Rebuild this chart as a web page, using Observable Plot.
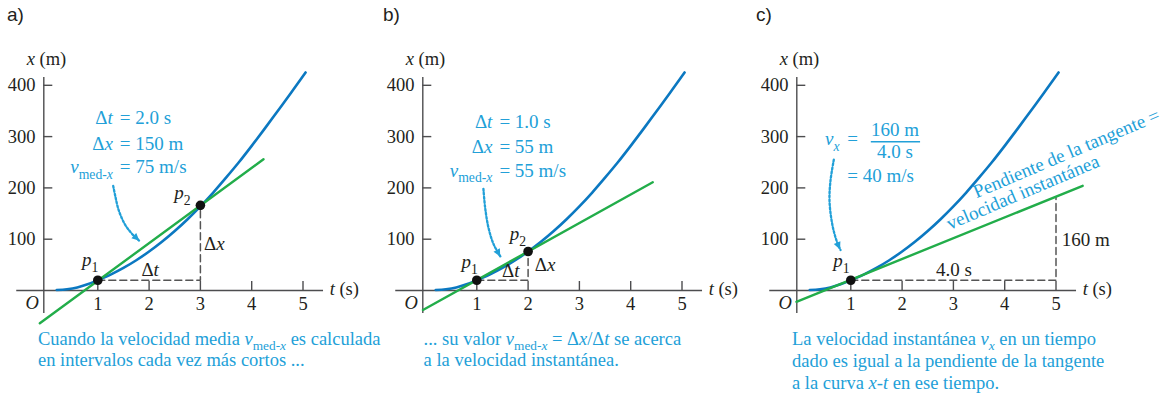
<!DOCTYPE html>
<html><head><meta charset="utf-8">
<script src="https://cdn.jsdelivr.net/npm/d3@7"></script>
<script src="https://cdn.jsdelivr.net/npm/@observablehq/plot@0.6"></script>
<style>
body{margin:0;background:#fff;}
#wrap{position:relative;width:1160px;height:393px;overflow:hidden;background:#fff;}
.panel{position:absolute;top:0;}
.plabel{position:absolute;top:4px;font-family:'Liberation Sans';font-size:19px;color:#231f20;}
</style></head><body><div id="wrap"></div>
<script>
// ---- data ----
const panelLabels = ["a)", "b)", "c)"];
const ticksT = [1, 2, 3, 4, 5];
const ticksX = [100, 200, 300, 400];
const tickLabelsT = ["1", "2", "3", "4", "5"];
const tickLabelsX = ["100", "200", "300", "400"];

// x-t curve (same in the three panels)
const curveT = [0.2, 0.4, 0.6, 0.8, 1.0, 1.25, 1.5, 1.75, 2.0, 2.25, 2.5, 2.75, 3.0, 3.25, 3.5, 3.75, 4.0, 4.25, 4.5, 4.75, 5.05];
const curveX = [1, 2.5, 6, 12, 20, 31, 44, 59, 76, 95, 116, 139, 164, 191, 220, 250, 282, 315, 349, 383, 425];

// panel a
const secantAT = [-0.13, 4.23];
const secantAX = [-64, 256];
const pointsAT = [1, 3];
const pointsAX = [20, 166];
const dashAT = [1, 3, 3];
const dashAX = [20, 20, 166];
const arrowAT = [1.30, 1.345, 1.409, 1.54, 1.70, 1.82];
const arrowAX = [204, 182, 156, 127, 107, 96];

// panel b
const secantBT = [-0.05, 4.43];
const secantBX = [-38, 211];
const pointsBT = [1, 2];
const pointsBX = [20, 76];
const dashBT = [1, 2, 2];
const dashBX = [20, 20, 76];
const arrowBT = [1.129, 1.162, 1.226, 1.324, 1.468];
const arrowBX = [198, 162, 123, 91, 65];

// panel c
const tangentCT = [-0.06, 5.52];
const tangentCX = [-22, 204];
const pointsCT = [1];
const pointsCX = [20];
const dashCT = [1, 5, 5];
const dashCX = [20, 20, 182];
const arrowCT = [0.669, 0.604, 0.585, 0.637, 0.721, 0.80];
const arrowCX = [255, 214, 175, 130, 97.5, 79];

// ---- styling ----
const SERIF = "'Liberation Serif', serif";
const INK = "#231f20";
const AXIS = "#4d4d4f";
const BLUE = "#0b78c1";
const GREEN = "#22ad4a";
const ANN = "#22a0d8";
const DASH = "#555";
const PX_T = 51.3, PX_X = 0.513, T0 = 46, Y0 = 290, H = 393, TICK = 9;

const zip = (a, b) => a.map((v, i) => ({t: v, x: b[i]}));

function richText(x, y, parts, o = {}) {
  const size = o.size || 19;
  const t = d3.create("svg:text")
    .attr("x", x).attr("y", y)
    .attr("text-anchor", o.anchor || "start")
    .attr("fill", o.fill || ANN)
    .attr("font-family", "Liberation Serif")
    .attr("font-size", size);
  if (o.rotate) t.attr("transform", `rotate(${o.rotate} ${x} ${y})`);
  let shift = 0;
  for (const [s, f = ""] of parts) {
    const sub = f.includes("s");
    const target = sub ? size * 0.3 : 0;
    const ts = t.append("tspan").text(s);
    if (target !== shift) { ts.attr("dy", target - shift); shift = target; }
    if (f.includes("i")) ts.attr("font-style", "italic");
    if (sub) ts.attr("font-size", size * 0.72);
  }
  return t.node();
}

function annotations(items, arrowPts) {
  return (index, scales) => {
    const g = d3.create("svg:g");
    for (const it of items) {
      g.append(() => richText(scales.x(it.t) + (it.dx || 0), scales.y(it.x) + (it.dy || 0), it.parts, it));
    }
    if (arrowPts) {
      const n = arrowPts.length;
      const X1 = scales.x(arrowPts[n - 2].t), Y1 = scales.y(arrowPts[n - 2].x);
      const X2 = scales.x(arrowPts[n - 1].t), Y2 = scales.y(arrowPts[n - 1].x);
      const a = Math.atan2(Y2 - Y1, X2 - X1);
      const L = 7.5, W = 3.6;
      const bx = X2 - Math.cos(a) * L, by = Y2 - Math.sin(a) * L;
      const px = -Math.sin(a) * W, py = Math.cos(a) * W;
      g.append("path")
        .attr("d", `M${X2},${Y2}L${bx + px},${by + py}L${bx - px},${by - py}Z`)
        .attr("fill", ANN);
    }
    return g.node();
  };
}

function commonItems() {
  return [
    {t: -0.376, x: 438.6, size: 18.5, parts: [["x", "i"], [" (m)"]], fill: INK},
    {t: 5.53, x: -9.7, size: 18.5, parts: [["t", "i"], [" (s)"]], fill: INK},
    {t: -0.27, x: -37, size: 18.5, parts: [["O", "i"]], fill: INK, anchor: "middle"}
  ];
}
const pLabel = (n) => [["p", "i"], [String(n), "s"]];
const vmed = [["v", "i"], ["med-", "s"], ["x", "si"]];

function panel(cfg) {
  const width = cfg.width;
  const curve = zip(curveT, curveX);
  const arrow = zip(cfg.arrowT, cfg.arrowX);
  const marks = [
    Plot.ruleY([0], {x1: -0.58, x2: 5.4, stroke: AXIS, strokeWidth: 1.4}),
    Plot.ruleX([0], {y1: -45, y2: 415, dx: -2.7, stroke: AXIS, strokeWidth: 1.4}),
    Plot.ruleX(ticksT, {x: d => d, y1: 0, y2: TICK / PX_X, stroke: AXIS, strokeWidth: 1.4}),
    Plot.ruleY(ticksX, {y: d => d, x1: 0, x2: TICK / PX_T, dx: -2.7, stroke: AXIS, strokeWidth: 1.4}),
    Plot.text(ticksT, {x: d => d, y: 0, text: (d, i) => tickLabelsT[i], dy: 14, fill: INK, fontSize: 18.5}),
    Plot.text(ticksX, {x: 0, y: d => d, text: (d, i) => tickLabelsX[i], dx: -11, textAnchor: "end", fill: INK, fontSize: 18.5}),
    Plot.line(zip(cfg.dashT, cfg.dashX), {x: "t", y: "x", stroke: DASH, strokeWidth: 1.5, strokeDasharray: "7,4"}),
    Plot.line(curve, {x: "t", y: "x", stroke: BLUE, strokeWidth: 2.6, curve: "monotone-x"}),
    Plot.line(zip(cfg.secT, cfg.secX), {x: "t", y: "x", stroke: GREEN, strokeWidth: 2.4}),
    Plot.dot(zip(cfg.ptT, cfg.ptX), {x: "t", y: "x", r: 4.8, fill: "#111", stroke: "none"}),
    Plot.line(arrow, {x: "t", y: "x", stroke: ANN, strokeWidth: 2.3, strokeDasharray: "2,2", curve: "catmull-rom"}),
    ...(cfg.extra || []),
    annotations([...commonItems(), ...cfg.items], arrow)
  ];
  const svg = Plot.plot({
    width, height: H,
    marginLeft: T0, marginRight: width - T0 - 5 * PX_T,
    marginTop: Y0 - 400 * PX_X, marginBottom: H - Y0,
    x: {domain: [0, 5], axis: null},
    y: {domain: [0, 400], axis: null},
    style: {fontFamily: SERIF, fontSize: "18px", overflow: "visible"},
    marks
  });
  const div = document.createElement("div");
  div.className = "panel";
  div.style.left = cfg.left + "px";
  div.appendChild(svg);
  document.getElementById("wrap").appendChild(div);
  const lab = document.createElement("div");
  lab.className = "plabel";
  lab.style.left = cfg.labelLeft + "px";
  lab.textContent = cfg.label;
  document.getElementById("wrap").appendChild(lab);
}

panel({
  left: 0, width: 380, label: panelLabels[0], labelLeft: 7,
  secT: secantAT, secX: secantAX, ptT: pointsAT, ptX: pointsAX,
  dashT: dashAT, dashX: dashAX, arrowT: arrowAT, arrowX: arrowAX,
  items: [
    {t: 1.44, x: 323.6, dx: -7, anchor: "end", parts: [["Δ"], ["t", "i"]]},
    {t: 1.44, x: 323.6, parts: [["= 2.0 s"]]},
    {t: 1.44, x: 272.9, dx: -7, anchor: "end", parts: [["Δ"], ["x", "i"]]},
    {t: 1.44, x: 272.9, parts: [["= 150 m"]]},
    {t: 1.44, x: 228, dx: -7, anchor: "end", parts: vmed},
    {t: 1.44, x: 228, parts: [["= 75 m/s"]]},
    {t: 0.70, x: 46.8, parts: pLabel(1), fill: INK},
    {t: 2.50, x: 177, parts: pLabel(2), fill: INK},
    {t: 2.03, x: 27, anchor: "middle", parts: [["Δ"], ["t", "i"]], fill: INK},
    {t: 3.08, x: 78, parts: [["Δ"], ["x", "i"]], fill: INK},
    {t: -0.156, x: -107, size: 18.5, parts: [["Cuando la velocidad media "], ...vmed, [" es calculada"]]},
    {t: -0.156, x: -149, size: 18.5, parts: [["en intervalos cada vez más cortos ..."]]}
  ]
});

panel({
  left: 379.4, width: 374, label: panelLabels[1], labelLeft: 383,
  secT: secantBT, secX: secantBX, ptT: pointsBT, ptX: pointsBX,
  dashT: dashBT, dashX: dashBX, arrowT: arrowBT, arrowX: arrowBX,
  items: [
    {t: 1.45, x: 315, dx: -7, anchor: "end", parts: [["Δ"], ["t", "i"]]},
    {t: 1.45, x: 315, parts: [["= 1.0 s"]]},
    {t: 1.45, x: 267.6, dx: -7, anchor: "end", parts: [["Δ"], ["x", "i"]]},
    {t: 1.45, x: 267.6, parts: [["= 55 m"]]},
    {t: 1.45, x: 221, dx: -7, anchor: "end", parts: vmed},
    {t: 1.45, x: 221, parts: [["= 55 m/s"]]},
    {t: 0.71, x: 43, parts: pLabel(1), fill: INK},
    {t: 1.65, x: 97.5, parts: pLabel(2), fill: INK},
    {t: 1.67, x: 25, anchor: "middle", parts: [["Δ"], ["t", "i"]], fill: INK},
    {t: 2.14, x: 37.6, parts: [["Δ"], ["x", "i"]], fill: INK},
    {t: -0.027, x: -107, size: 18.5, parts: [["... su valor "], ...vmed, [" = Δ"], ["x", "i"], ["/Δ"], ["t", "i"], [" se acerca"]]},
    {t: -0.027, x: -149, size: 18.5, parts: [["a la velocidad instantánea."]]}
  ]
});

panel({
  left: 753, width: 407, label: panelLabels[2], labelLeft: 756,
  secT: tangentCT, secX: tangentCX, ptT: pointsCT, ptX: pointsCX,
  dashT: dashCT, dashX: dashCX, arrowT: arrowCT, arrowX: arrowCX,
  extra: [Plot.ruleY([290], {x1: 1.40, x2: 2.36, stroke: ANN, strokeWidth: 1.3})],
  items: [
    {t: 0.507, x: 282.6, parts: [["v", "i"], ["x", "si"]]},
    {t: 0.94, x: 282.6, parts: [["="]]},
    {t: 1.87, x: 300, anchor: "middle", parts: [["160 m"]]},
    {t: 1.87, x: 257.9, anchor: "middle", parts: [["4.0 s"]]},
    {t: 0.94, x: 211, parts: [["= 40 m/s"]]},
    {t: 0.67, x: 45, parts: pLabel(1), fill: INK},
    {t: 3.02, x: 27, anchor: "middle", parts: [["4.0 s"]], fill: INK},
    {t: 5.12, x: 86, parts: [["160 m"]], fill: INK},
    {t: 3.46, x: 178.7, rotate: -23, parts: [["Pendiente de la tangente ="]]},
    {t: 2.94, x: 117, rotate: -23, parts: [["velocidad instantánea"]]},
    {t: -0.136, x: -107, size: 18.5, parts: [["La velocidad instantánea "], ["v", "i"], ["x", "si"], [" en un tiempo"]]},
    {t: -0.136, x: -150, size: 18.5, parts: [["dado es igual a la pendiente de la tangente"]]},
    {t: -0.136, x: -193, size: 18.5, parts: [["a la curva "], ["x", "i"], ["-"], ["t", "i"], [" en ese tiempo."]]}
  ]
});
</script>
</body></html>
